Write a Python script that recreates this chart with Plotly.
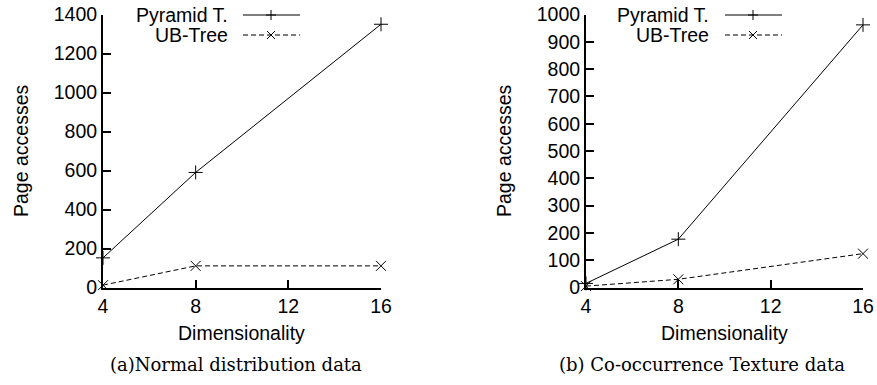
import plotly.graph_objects as go

dims = [4, 8, 16]
x_ticks = [4, 8, 12, 16]

pyr_normal = [152, 590, 1350]
ub_normal = [12, 111, 111]
pyr_texture = [15, 177, 962]
ub_texture = [5, 30, 124]

left_yticks = [0, 200, 400, 600, 800, 1000, 1200, 1400]
right_yticks = [0, 100, 200, 300, 400, 500, 600, 700, 800, 900, 1000]

series_names = ["Pyramid T.", "UB-Tree"]
captions = ["(a)Normal distribution data", "(b) Co-occurrence Texture data"]

W, H = 877, 385
SANS = "Liberation Sans"
SERIF = "DejaVu Serif"
FS = 19.5

fig = go.Figure()

def add_series(xref, yref, pyr, ub):
    fig.add_trace(go.Scatter(x=dims, y=pyr, xaxis=xref, yaxis=yref, mode="lines+markers",
                             line=dict(color="black", width=1),
                             marker=dict(symbol="cross-thin", size=10, line=dict(color="black", width=1)),
                             showlegend=False, name=series_names[0], cliponaxis=False))
    fig.add_trace(go.Scatter(x=dims, y=ub, xaxis=xref, yaxis=yref, mode="lines+markers",
                             line=dict(color="black", width=1, dash="5px,3px"),
                             marker=dict(symbol="x-thin", size=10, line=dict(color="black", width=1)),
                             showlegend=False, name=series_names[1], cliponaxis=False))

add_series("x", "y", pyr_normal, ub_normal)
add_series("x2", "y2", pyr_texture, ub_texture)

px = lambda v: v / W
py = lambda v: 1 - v / H

ydom = [py(287.5), py(14.5)]
axis_common = dict(showline=True, linecolor="black", linewidth=2, ticks="inside", ticklen=8,
                   tickwidth=1.5, tickcolor="black", showgrid=False, zeroline=False,
                   automargin=False,
                   tickfont=dict(family=SANS, size=FS, color="black"))

fig.update_layout(
    width=W, height=H, margin=dict(l=0, r=0, t=0, b=0, pad=0),
    plot_bgcolor="white", paper_bgcolor="white",
    xaxis=dict(domain=[px(103), px(381)], range=[4, 16], tickvals=x_ticks, anchor="y", **axis_common),
    yaxis=dict(domain=ydom, range=[0, 1400], tickvals=left_yticks, anchor="x", **axis_common),
    xaxis2=dict(domain=[px(586), px(863)], range=[4, 16], tickvals=x_ticks, anchor="y2", **axis_common),
    yaxis2=dict(domain=ydom, range=[0, 1000], tickvals=right_yticks, anchor="x2", **axis_common),
)

def text_ann(x, y, text, font, xanchor="center", angle=0):
    return dict(x=px(x), y=py(y), xref="paper", yref="paper", text=text, textangle=angle,
                xanchor=xanchor, yanchor="middle", showarrow=False, font=font)

sans_font = dict(family=SANS, size=FS, color="black")
ann = []
shapes = []
for (ycx, xcx, text_end, l0, l1, mx) in [
    (21, 242, 230, 243, 300, 271),
    (504, 724, 711, 725, 782, 753),
]:
    ann.append(text_ann(ycx, 151, "Page accesses", sans_font, angle=-90))
    ann.append(text_ann(xcx, 333, "Dimensionality", sans_font))
    for i, (name, yc) in enumerate(zip(series_names, [15, 35])):
        ann.append(text_ann(text_end, yc, name, sans_font, xanchor="right"))
        shapes.append(dict(type="line", xref="paper", yref="paper", x0=px(l0), x1=px(l1),
                           y0=py(yc), y1=py(yc),
                           line=dict(color="black", width=1, dash="solid" if i == 0 else "5px,3px")))
        if i == 0:
            shapes.append(dict(type="line", xref="paper", yref="paper", x0=px(mx - 5), x1=px(mx + 5),
                               y0=py(yc), y1=py(yc), line=dict(color="black", width=1)))
            shapes.append(dict(type="line", xref="paper", yref="paper", x0=px(mx), x1=px(mx),
                               y0=py(yc - 5), y1=py(yc + 5), line=dict(color="black", width=1)))
        else:
            shapes.append(dict(type="line", xref="paper", yref="paper", x0=px(mx - 4), x1=px(mx + 4),
                               y0=py(yc - 4), y1=py(yc + 4), line=dict(color="black", width=1)))
            shapes.append(dict(type="line", xref="paper", yref="paper", x0=px(mx - 4), x1=px(mx + 4),
                               y0=py(yc + 4), y1=py(yc - 4), line=dict(color="black", width=1)))

serif_font = dict(family=SERIF, size=18, color="black")
for capx, cap in zip([236, 702], captions):
    ann.append(text_ann(capx, 364, cap, serif_font))

fig.update_layout(annotations=ann, shapes=shapes)
fig.write_html("out.html",
               post_script="document.body.style.margin='0px';document.body.style.overflow='hidden';")
